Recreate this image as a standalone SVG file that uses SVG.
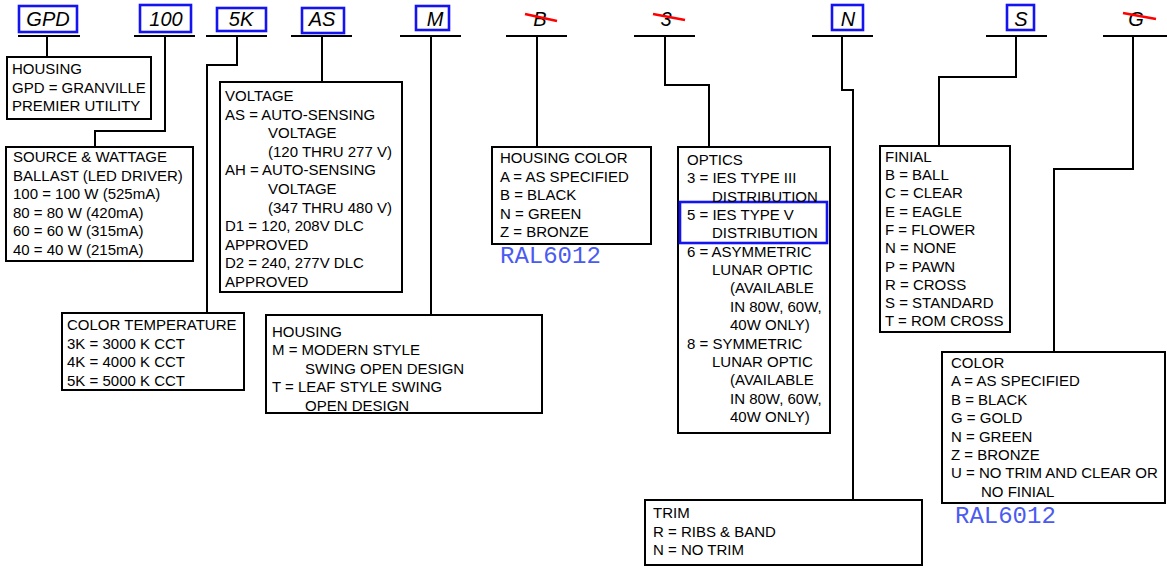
<svg xmlns="http://www.w3.org/2000/svg" width="1167" height="572" viewBox="0 0 1167 572">
<style>
.bg{fill:#fff}
.box{fill:#fff;stroke:#000;stroke-width:2}
.hb{fill:none;stroke:#1414f0;stroke-width:2.6}
.ul{stroke:#000;stroke-width:2;fill:none}
.con path{stroke:#000;stroke-width:2;fill:none}
.strike{stroke:#f00;stroke-width:2.6}
.h{font-family:"Liberation Sans",Arial,sans-serif;font-size:20px;font-style:italic;fill:#000;text-anchor:middle}
.t{font-family:"Liberation Sans",Arial,sans-serif;font-size:15px;fill:#000}
.ral{font-family:"Liberation Mono","Courier New",monospace;font-size:24px;fill:#4a5af2}
</style>
<rect class="bg" x="0" y="0" width="1167" height="572"/>

<g id="connectors" class="con">
<path d="M47,36 V57"/>
<path d="M165,36 V131 H95 V147"/>
<path d="M237,36 V65 H207 V313"/>
<path d="M322,36 V82"/>
<path d="M431,36 V315"/>
<path d="M537,36 V147"/>
<path d="M665,36 V85 H709 V147"/>
<path d="M842,36 V90 H853 V500"/>
<path d="M1016,36 V77 H939 V146"/>
<path d="M1133,36 V169 H1054 V352"/>
</g>

<g id="hdr-gpd"><rect class="hb" x="19" y="6" width="58" height="26"/><text class="h" x="48" y="26">GPD</text><line class="ul" x1="18" y1="36" x2="80" y2="36"/></g>
<g id="hdr-100"><rect class="hb" x="140" y="5" width="51" height="27"/><text class="h" x="166" y="26">100</text><line class="ul" x1="134" y1="36" x2="195" y2="36"/></g>
<g id="hdr-5k"><rect class="hb" x="217" y="8" width="49" height="23"/><text class="h" x="241" y="26">5K</text><line class="ul" x1="206" y1="36" x2="267" y2="36"/></g>
<g id="hdr-as"><rect class="hb" x="302" y="8" width="42" height="25"/><text class="h" x="322" y="26">AS</text><line class="ul" x1="291" y1="36" x2="352" y2="36"/></g>
<g id="hdr-m"><rect class="hb" x="416" y="6" width="33" height="24"/><text class="h" x="435" y="26">M</text><line class="ul" x1="400" y1="36" x2="461" y2="36"/></g>
<g id="hdr-b"><text class="h" x="540" y="26">B</text><line class="strike" x1="525" y1="14" x2="557" y2="21"/><line class="ul" x1="506" y1="36" x2="567" y2="36"/></g>
<g id="hdr-3"><text class="h" x="666" y="26">3</text><line class="strike" x1="653" y1="14" x2="685" y2="20"/><line class="ul" x1="634" y1="36" x2="695" y2="36"/></g>
<g id="hdr-n"><rect class="hb" x="832" y="5" width="31" height="25"/><text class="h" x="848" y="26">N</text><line class="ul" x1="812" y1="36" x2="873" y2="36"/></g>
<g id="hdr-s"><rect class="hb" x="1007" y="5" width="27" height="25"/><text class="h" x="1021" y="26">S</text><line class="ul" x1="986" y1="36" x2="1047" y2="36"/></g>
<g id="hdr-g"><text class="h" x="1136" y="26">G</text><line class="strike" x1="1123" y1="13" x2="1156" y2="19"/><line class="ul" x1="1103" y1="36" x2="1167" y2="36"/></g>

<g id="box-housing">
<rect class="box" x="7" y="57" width="144" height="62"/>
<text class="t" x="12" y="74">HOUSING</text>
<text class="t" x="12" y="92.5">GPD = GRANVILLE</text>
<text class="t" x="12" y="111">PREMIER UTILITY</text>
</g>

<g id="box-source">
<rect class="box" x="6" y="147" width="187" height="114"/>
<text class="t" x="13" y="162">SOURCE &amp; WATTAGE</text>
<text class="t" x="13" y="180.5">BALLAST (LED DRIVER)</text>
<text class="t" x="13" y="199">100 = 100 W (525mA)</text>
<text class="t" x="13" y="217.5">80 = 80 W (420mA)</text>
<text class="t" x="13" y="236">60 = 60 W (315mA)</text>
<text class="t" x="13" y="254.5">40 = 40 W (215mA)</text>
</g>

<g id="box-voltage">
<rect class="box" x="220" y="82" width="182" height="210"/>
<text class="t" x="225" y="101">VOLTAGE</text>
<text class="t" x="225" y="119.6">AS = AUTO-SENSING</text>
<text class="t" x="268" y="138.2">VOLTAGE</text>
<text class="t" x="268" y="156.8">(120 THRU 277 V)</text>
<text class="t" x="225" y="175.4">AH = AUTO-SENSING</text>
<text class="t" x="268" y="194">VOLTAGE</text>
<text class="t" x="268" y="212.6">(347 THRU 480 V)</text>
<text class="t" x="225" y="231.2">D1 = 120, 208V DLC</text>
<text class="t" x="225" y="249.8">APPROVED</text>
<text class="t" x="225" y="268.4">D2 = 240, 277V DLC</text>
<text class="t" x="225" y="287">APPROVED</text>
</g>

<g id="box-colortemp">
<rect class="box" x="62" y="313" width="182" height="77"/>
<text class="t" x="67" y="330">COLOR TEMPERATURE</text>
<text class="t" x="67" y="348.5">3K = 3000 K CCT</text>
<text class="t" x="67" y="367">4K = 4000 K CCT</text>
<text class="t" x="67" y="385.5">5K = 5000 K CCT</text>
</g>

<g id="box-housing-style">
<rect class="box" x="266" y="315" width="276" height="98"/>
<text class="t" x="272" y="336.5">HOUSING</text>
<text class="t" x="272" y="355">M = MODERN STYLE</text>
<text class="t" x="305" y="373.5">SWING OPEN DESIGN</text>
<text class="t" x="272" y="392">T = LEAF STYLE SWING</text>
<text class="t" x="305" y="410.5">OPEN DESIGN</text>
</g>

<g id="box-housing-color">
<rect class="box" x="492" y="147" width="159" height="97"/>
<text class="t" x="500" y="163">HOUSING COLOR</text>
<text class="t" x="500" y="181.5">A = AS SPECIFIED</text>
<text class="t" x="500" y="200">B = BLACK</text>
<text class="t" x="500" y="218.5">N = GREEN</text>
<text class="t" x="500" y="237">Z = BRONZE</text>
<text class="ral" x="500" y="263">RAL6012</text>
</g>

<g id="box-optics">
<rect class="box" x="678" y="147" width="152" height="286"/>
<rect class="hb" x="680" y="202" width="147" height="41"/>
<text class="t" x="687" y="165">OPTICS</text>
<text class="t" x="687" y="183.35">3 = IES TYPE III</text>
<text class="t" x="712" y="201.7">DISTRIBUTION</text>
<text class="t" x="687" y="220.05">5 = IES TYPE V</text>
<text class="t" x="712" y="238.4">DISTRIBUTION</text>
<text class="t" x="687" y="256.75">6 = ASYMMETRIC</text>
<text class="t" x="712" y="275.1">LUNAR OPTIC</text>
<text class="t" x="730" y="293.45">(AVAILABLE</text>
<text class="t" x="730" y="311.8">IN 80W, 60W,</text>
<text class="t" x="730" y="330.15">40W ONLY)</text>
<text class="t" x="687" y="348.5">8 = SYMMETRIC</text>
<text class="t" x="712" y="366.85">LUNAR OPTIC</text>
<text class="t" x="730" y="385.2">(AVAILABLE</text>
<text class="t" x="730" y="403.55">IN 80W, 60W,</text>
<text class="t" x="730" y="421.9">40W ONLY)</text>
</g>

<g id="box-trim">
<rect class="box" x="645" y="500" width="277" height="65"/>
<text class="t" x="653" y="518.3">TRIM</text>
<text class="t" x="653" y="536.5">R = RIBS &amp; BAND</text>
<text class="t" x="653" y="554.5">N = NO TRIM</text>
</g>

<g id="box-finial">
<rect class="box" x="880" y="146" width="130" height="186"/>
<text class="t" x="885" y="161.7">FINIAL</text>
<text class="t" x="885" y="180">B = BALL</text>
<text class="t" x="885" y="198.3">C = CLEAR</text>
<text class="t" x="885" y="216.6">E = EAGLE</text>
<text class="t" x="885" y="234.9">F = FLOWER</text>
<text class="t" x="885" y="253.2">N = NONE</text>
<text class="t" x="885" y="271.5">P = PAWN</text>
<text class="t" x="885" y="289.8">R = CROSS</text>
<text class="t" x="885" y="308.1">S = STANDARD</text>
<text class="t" x="885" y="326.4">T = ROM CROSS</text>
</g>

<g id="box-color">
<rect class="box" x="942" y="352" width="223" height="151"/>
<text class="t" x="951" y="368">COLOR</text>
<text class="t" x="951" y="386.4">A = AS SPECIFIED</text>
<text class="t" x="951" y="404.8">B = BLACK</text>
<text class="t" x="951" y="423.2">G = GOLD</text>
<text class="t" x="951" y="441.6">N = GREEN</text>
<text class="t" x="951" y="460">Z = BRONZE</text>
<text class="t" x="951" y="478.4">U = NO TRIM AND CLEAR OR</text>
<text class="t" x="981" y="496.8">NO FINIAL</text>
<text class="ral" x="955" y="523">RAL6012</text>
</g>
</svg>
